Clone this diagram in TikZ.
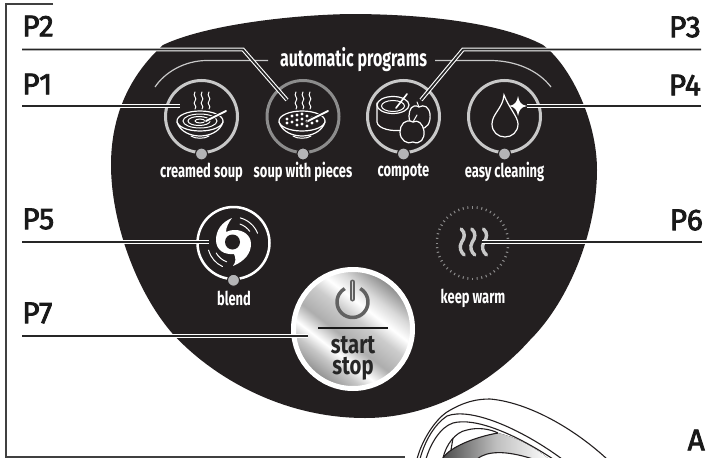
\documentclass[tikz,border=0pt]{standalone}
\usepackage{fontspec}
\usetikzlibrary{calc}
\newfontfamily\markfont[FakeBold=2.6]{Fira Sans}
\newfontfamily\panelfont[FakeStretch=0.68]{Fira Sans}
\newfontfamily\buttonfont[FakeStretch=0.78]{Fira Sans}
\definecolor{panelblack}{HTML}{231F20}
\definecolor{ringlight}{HTML}{C8C8C8}
\definecolor{ringdark}{HTML}{8C8C8C}
\definecolor{dotgrey}{HTML}{B4B4B6}
\pgfdeclareverticalshading{silverband}{100bp}{color(0bp)=(black!45);color(25bp)=(black!45);color(33bp)=(black!22);color(38bp)=(white);color(45bp)=(black!32);color(54bp)=(black!20);color(60bp)=(white);color(66bp)=(black!15);color(75bp)=(black!48);color(100bp)=(black!48)}
\tikzset{
	marklabel/.style={font=\markfont\fontsize{30}{30}\selectfont, text=black!90, inner sep=0pt, anchor=west},
	paneltext/.style={font=\panelfont\bfseries\fontsize{19}{19}\selectfont, text=white, inner sep=0pt},
	buttontext/.style={font=\buttonfont\bfseries\fontsize{26}{21}\selectfont, text=black!85, inner sep=0pt, align=center},
	ring/.style={draw=#1, circle, line width=3pt, minimum size=72pt, inner sep=0pt},
	indicator/.style={circle, fill=dotgrey, draw=panelblack, line width=1pt, minimum size=12pt, inner sep=0pt},
	leader/.style={draw=white, double=black!85, line width=1.1pt, double distance=1.7pt},
	thinwhite/.style={draw=white, line width=1pt, line cap=round},
	lidline/.style={draw=panelblack, line width=1.1pt},
}
\newcommand{\steamwaves}[2]{
	\foreach \dx in {0,7,14}
		\draw[thinwhite, shift={(#1+\dx,#2)}] (0,0) .. controls (-3,4) and (3,6) .. (0,9) .. controls (-3,12) and (3,14) .. (0,17);
}
\newcommand{\soupbowl}[2]{
	\begin{scope}[shift={(#1,#2)}]
		\draw[thinwhite, line width=1.2pt, fill=panelblack] (0,0) ellipse (23 and 10);
		\draw[thinwhite, line width=1.2pt] (-23,1) .. controls (-20,11) and (-9,15) .. (0,15) .. controls (9,15) and (20,11) .. (23,1);
		\draw[thinwhite] (-9,15) .. controls (-5,18) and (5,18) .. (9,15);
	\end{scope}
}
\begin{document}
\begin{tikzpicture}[x=1pt, y=-1pt]
	\useasboundingbox (0,0) rectangle (713,458);

	% panel
	\fill[panelblack] (350,14) .. controls (420,14) and (500,22) .. (543,45) .. controls (570,65) and (597,120) .. (597,170) .. controls (597,230) and (570,300) .. (530,340) .. controls (490,385) and (430,418) .. (365,418) .. controls (280,418) and (210,375) .. (172,333) .. controls (135,290) and (111,220) .. (111,165) .. controls (111,115) and (130,75) .. (163,45) .. controls (205,25) and (290,15) .. (350,14) -- cycle;

	% frame
	\coordinate (frameT) at (53,4);
	\coordinate (frameTL) at (6,4);
	\coordinate (frameBL) at (6,457);
	\coordinate (frameB) at (405,457);
	\draw[black!75, line width=1.2pt] (frameT) -- (frameTL) -- (frameBL) -- (frameB);

	% lid
	\begin{scope}
		\clip (400,390) rectangle (713,458);
		\fill[left color=black!70, right color=white, middle color=black!25] (443,458) .. controls (450,447) and (475,437) .. (498,433) .. controls (515,437) and (535,447) .. (550,460) -- cycle;
		\draw[lidline, fill=white] (477,459) .. controls (487,451) and (505,450) .. (533,459) -- cycle;
		\draw[lidline] (443,458) .. controls (446,445) and (455,432) .. (467,430) .. controls (478,427) and (490,429) .. (498,433);
		\draw[lidline] (443,458) .. controls (450,447) and (475,437) .. (498,433);
		\draw[lidline] (453,438) -- (451,450);
		\draw[lidline] (417,459) .. controls (422,440) and (435,420) .. (447,412) .. controls (465,401) and (478,399) .. (490,399) .. controls (525,402) and (570,425) .. (607,459);
		\draw[lidline] (420,459) .. controls (425,440) and (435,424) .. (447,416) .. controls (470,407) and (520,428) .. (562,459);
		\draw[lidline] (426,459) .. controls (430,445) and (440,427) .. (453,423) .. controls (475,417) and (515,434) .. (553,459);
	\end{scope}

	% arcs over the programs
	\coordinate (autoL) at (268,60.5);
	\coordinate (autoR) at (435,60.5);
	\coordinate (arcL) at (155,87);
	\coordinate (arcR) at (551,87);
	\draw[draw=ringlight, line width=1.2pt] (autoL) -- (207,60.5) .. controls (185,60.5) and (165,72) .. (arcL);
	\draw[draw=ringlight, line width=1.2pt] (autoR) -- (490,60.5) .. controls (515,60.5) and (538,70) .. (arcR);
	\node[paneltext, font=\panelfont\bfseries\fontsize{23.5}{23.5}\selectfont] (auto) at (353.5,60) {automatic programs};

	% program buttons
	\node[ring=ringlight] (creamed) at (201.5,116.5) {};
	\node[ring=ringdark] (pieces) at (303,116.5) {};
	\node[ring=ringlight] (compote) at (403.5,116.5) {};
	\node[ring=ringlight] (cleaning) at (504.5,116.5) {};
	\node[ring=white, line width=2.5pt] (blend) at (233.5,243) {};
	\foreach \n in {creamed,pieces,compote,cleaning,blend}
		\node[indicator] at (\n.south) {};

	\node[paneltext] at (201.5,172) {creamed soup};
	\node[paneltext] at (303,172) {soup with pieces};
	\node[paneltext] at (403.5,172) {compote};
	\node[paneltext] at (504.5,172) {easy cleaning};
	\node[paneltext] at (234,298) {blend};
	\node[paneltext] at (473,298) {keep warm};

	% creamed soup
	\steamwaves{195}{92}
	\soupbowl{200}{121}
	\draw[thinwhite] (200,121) ellipse (17 and 7);
	\draw[thinwhite] (199,121) ellipse (11 and 4.5);
	\draw[thinwhite] (200,121) ellipse (5 and 2);
	\draw[panelblack, line width=3.6pt, line cap=round] (206,121) -- (226,111);
	\draw[white, line width=1.8pt, line cap=round] (206,121) -- (226,111);

	% soup with pieces
	\steamwaves{296}{92}
	\soupbowl{302}{121}
	\foreach \x/\y in {-15/-2,-10/-5,-10/1,-5/-6,-5/-1,-5/4,0/-7,0/-2,0/3,5/-5,5/0,5/5,10/-3,10/2,15/0,-15/2}
		\fill[white] (302+\x,121+\y) circle (1.6);
	\draw[panelblack, line width=3.6pt, line cap=round] (308,121) -- (328,111);
	\draw[white, line width=1.8pt, line cap=round] (308,121) -- (328,111);

	% compote
	\draw[thinwhite, line width=1.2pt] (377,103) -- (377,122) .. controls (378,129) and (392,132) .. (405,130);
	\draw[thinwhite, line width=1.2pt, fill=panelblack] (393,105) ellipse (16 and 8.5);
	\draw[thinwhite] (393,106) ellipse (11.5 and 5.5);
	\draw[white, line width=1.6pt, line cap=round] (396,108) -- (407,94);
	\draw[thinwhite, line width=1.2pt, fill=panelblack] (419,107) .. controls (412,103) and (409,110) .. (409,116) .. controls (409,124) and (415,130) .. (420,128) .. controls (427,130) and (431,122) .. (430,114) .. controls (429,107) and (424,104) .. (419,107) -- cycle;
	\draw[thinwhite] (419,107) -- (417,102);
	\draw[thinwhite, line width=1.2pt, fill=panelblack] (413,122) .. controls (405,118) and (400,125) .. (400,132) .. controls (400,140) and (407,145) .. (413,142) .. controls (420,145) and (425,139) .. (424,131) .. controls (423,124) and (418,119) .. (413,122) -- cycle;
	\draw[thinwhite] (413,122) -- (417,115);

	% easy cleaning
	\draw[thinwhite, line width=1.2pt] (504,95) .. controls (503,108) and (492,114) .. (492,124) .. controls (492,132) and (498,137) .. (505,137) .. controls (512,137) and (518,132) .. (518,124) .. controls (518,117) and (509,108) .. (504,95) -- cycle;
	\fill[panelblack] (518,106) circle (6);
	\fill[white] (518,96) .. controls (519,102) and (521,105) .. (527,106) .. controls (521,107) and (519,110) .. (518,116) .. controls (517,110) and (515,107) .. (509,106) .. controls (515,105) and (517,102) .. (518,96) -- cycle;

	% blend
	\fill[white] (232,218) .. controls (222,222) and (216,230) .. (216,240) .. controls (216,250) and (224,255) .. (234,254) .. controls (236,258) and (236,262) .. (233,266) .. controls (245,261) and (251,253) .. (251,244) .. controls (251,235) and (243,230) .. (235,230) .. controls (231,230) and (228,231) .. (226,232) .. controls (226,227) and (229,222) .. (232,218) -- cycle;
	\fill[panelblack] (232.5,242) circle (7.5);
	\foreach \r/\a/\b in {26/22/75, 20/36/71, 26/196/245, 20/210/250}
		\draw[thinwhite] ($(blend.center)+(-\a:\r)$) arc (-\a:-\b:\r);

	% keep warm
	\coordinate (warm) at (472.5,243);
	\foreach \a in {0,7.5,...,352.5}
		\draw[black!45, line width=1pt] ($(warm)+(\a:34.5)$) -- ($(warm)+(\a:37)$);
	\foreach \x in {462.7,473.3,485}
		\draw[ringlight, line width=3.4pt, line cap=round] (\x-1.5,229) .. controls (\x+3,233) and (\x+2,238) .. (\x-1,242) .. controls (\x-4,247) and (\x-2,252) .. (\x+1.5,255);

	% start stop
	\node[circle, draw=white, line width=5pt, shading=silverband, shading angle=-38, minimum size=119pt, inner sep=0pt] (start) at (353,329) {};
	\draw[black!62, line width=3.5pt] ($(start.center)+(-0.5,-27)+(-60:15.5)$) arc (-60:240:15.5);
	\draw[black!62, line width=5pt, line cap=round] (352.5,282) -- (352.5,299);
	\draw[black!15, line width=1.8pt, line cap=round] (352.5,282) -- (352.5,299);
	\coordinate (startbarL) at (318,328);
	\coordinate (startbarR) at (388,328);
	\draw[black!90, line width=2.6pt] (startbarL) -- (startbarR);
	\node[buttontext] (startlabel) at (353,358) {start\\stop};

	% labels and leaders
	\node[marklabel] (P1) at (22,84) {P1};
	\node[marklabel] (P2) at (22,26) {P2};
	\node[marklabel] (P5) at (22,219) {P5};
	\node[marklabel] (P7) at (22,313) {P7};
	\node[marklabel, anchor=east] (P3) at (701,27) {P3};
	\node[marklabel, anchor=east] (P4) at (701,85) {P4};
	\node[marklabel, anchor=east] (P6) at (703,220) {P6};
	\node[marklabel, anchor=east] (A) at (705,440) {A};

	\coordinate (P1a) at (22,106);
	\coordinate (P1b) at (180,106);
	\coordinate (P2a) at (22,49.5);
	\coordinate (P2k) at (243,49.5);
	\coordinate (P2b) at (287,100);
	\coordinate (P3a) at (701,49.5);
	\coordinate (P3k) at (463,49.5);
	\coordinate (P3b) at (421,100);
	\coordinate (P4a) at (701,106);
	\coordinate (P4b) at (527,106);
	\coordinate (P5a) at (22,242);
	\coordinate (P5b) at (209,242);
	\coordinate (P6a) at (702,242);
	\coordinate (P6b) at (482,242);
	\coordinate (P7a) at (22,336);
	\coordinate (P7b) at (308,336);
	\draw[leader] (P1a) -- (P1b);
	\draw[leader] (P2a) -- (P2k) -- (P2b);
	\draw[leader] (P3a) -- (P3k) -- (P3b);
	\draw[leader] (P4a) -- (P4b);
	\draw[leader] (P5a) -- (P5b);
	\draw[leader] (P6a) -- (P6b);
	\draw[leader] (P7a) -- (P7b);
\end{tikzpicture}
\end{document}
